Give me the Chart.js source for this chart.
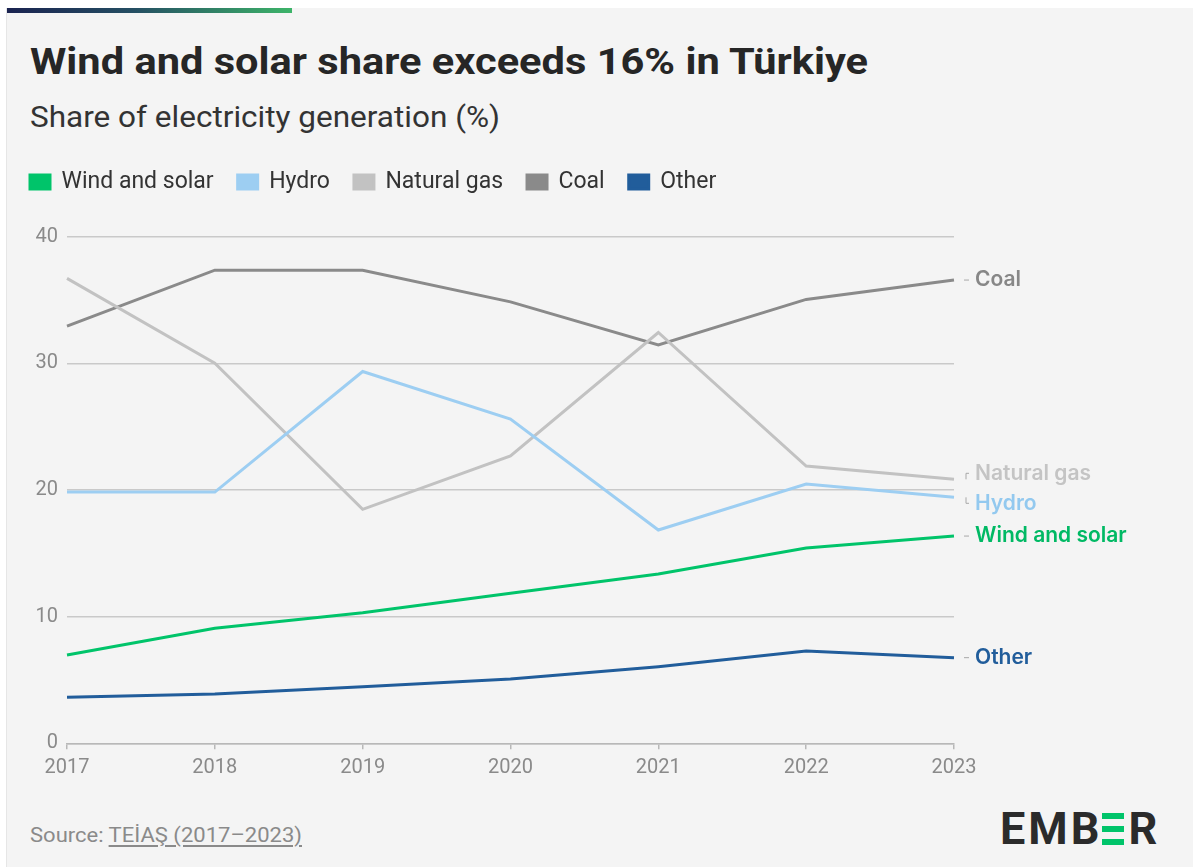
<!DOCTYPE html>
<html>
<head>
<meta charset="utf-8">
<title>Wind and solar share exceeds 16% in Türkiye</title>
<script src="https://cdn.jsdelivr.net/npm/chart.js@4.4.1/dist/chart.umd.min.js"></script>
<style>
  html, body { margin: 0; padding: 0; background: #ffffff; }
  body { width: 1193px; height: 867px; position: relative; overflow: hidden; font-family: Roboto, "Noto Sans", sans-serif; }
  #card { position: absolute; left: 6px; top: 8px; right: 0; bottom: 0; background: #f4f4f4; border-left: 1px solid #e6e6e6; }
  #accent { position: absolute; left: 7px; top: 8px; width: 285px; height: 5px;
            background: linear-gradient(90deg, #1a2350 0%, #254f63 45%, #3db469 100%); }
  .txt { position: absolute; white-space: nowrap; transform-origin: 0 0; }
  #title { left: 30px; top: 40px; font: 700 37px Roboto; line-height: 44px; color: #262626; }
  #subtitle { left: 30px; top: 100px; font: 400 29px Roboto; line-height: 34px; color: #333333; }
  #source { left: 30px; top: 823px; font: 400 20px Roboto; line-height: 24px; color: #8a8a8a; }
  #source span { text-decoration: underline; text-underline-offset: 3px; }
  #logo { position: absolute; left: 1000px; top: 806px; font: 700 45px Roboto; line-height: 46px; color: #2b2b2b; letter-spacing: 3px; white-space: nowrap; }
  #logo .e3 { display: inline-block; position: relative; width: 22px; height: 32px; margin-right: 4px; vertical-align: -1px; }
  #logo .e3 i { position: absolute; left: 0; width: 22px; height: 6px; background: #00c46a; }
  #logo .e3 i:nth-child(1) { top: 0; }
  #logo .e3 i:nth-child(2) { top: 13px; }
  #logo .e3 i:nth-child(3) { top: 26px; }
  #chart { position: absolute; left: 0; top: 0; }
</style>
</head>
<body>
<div id="card"></div>
<div id="accent"></div>
<div id="title" class="txt" data-w="838">Wind and solar share exceeds 16% in Türkiye</div>
<div id="subtitle" class="txt" data-w="470">Share of electricity generation (%)</div>
<div id="source" class="txt" data-w="272">Source: <span>TEİAŞ (2017–2023)</span></div>
<div id="logo" aria-label="EMBER">EMB<span class="e3"><i></i><i></i><i></i></span>R</div>
<canvas id="chart" width="1193" height="867"></canvas>

<script>
// Years on the x axis
const years = ['2017', '2018', '2019', '2020', '2021', '2022', '2023'];

// Share of electricity generation, %
const windSolar  = [6.97, 9.08, 10.31, 11.85, 13.36, 15.42, 16.36];
const hydro      = [19.83, 19.83, 29.35, 25.59, 16.84, 20.47, 19.42];
const naturalGas = [36.7, 30.0, 18.47, 22.69, 32.43, 21.89, 20.84];
const coal       = [32.93, 37.35, 37.35, 34.85, 31.44, 35.04, 36.57];
const other      = [3.63, 3.89, 4.47, 5.07, 6.05, 7.28, 6.76];

// Series names and colours
const seriesNames  = ['Wind and solar', 'Hydro', 'Natural gas', 'Coal', 'Other'];
const seriesColors = ['#00c46a', '#9dcef2', '#c2c2c2', '#8a8a8a', '#215d9b'];
const labelColors  = ['#00b964', '#93c9ef', '#c4c4c4', '#878787', '#215d9b'];

// Y axis ticks
const yTicks = [0, 10, 20, 30, 40];

// Squeeze HTML text blocks to their target widths
document.querySelectorAll('.txt').forEach(el => {
  const target = +el.dataset.w;
  const w = el.getBoundingClientRect().width;
  if (w > 0) el.style.transform = 'scaleX(' + (target / w).toFixed(4) + ')';
});

const seriesData = [windSolar, hydro, naturalGas, coal, other];
const datasets = seriesNames.map((name, i) => ({
  label: name,
  data: seriesData[i],
  borderColor: seriesColors[i],
  backgroundColor: seriesColors[i],
  borderWidth: 3,
  pointRadius: 0,
  pointHoverRadius: 0,
  tension: 0,
  fill: false
}));

// Names at the right end of each line, spread apart when they collide
const endLabels = {
  id: 'endLabels',
  afterDatasetsDraw(chart) {
    const { ctx, chartArea } = chart;
    const items = chart.data.datasets.map((ds, i) => {
      const meta = chart.getDatasetMeta(i);
      const pt = meta.data[meta.data.length - 1];
      return { i, text: ds.label, py: pt.y, y: pt.y };
    }).sort((a, b) => a.py - b.py);
    const gap = 30;
    for (let iter = 0; iter < 50; iter++) {
      let moved = false;
      for (let k = 1; k < items.length; k++) {
        const d = items[k].y - items[k - 1].y;
        if (d < gap) {
          const push = (gap - d) / 2;
          items[k - 1].y -= push;
          items[k].y += push;
          moved = true;
        }
      }
      if (!moved) break;
    }
    const x0 = chartArea.right + 10;
    ctx.save();
    items.forEach(it => {
      ctx.strokeStyle = '#a8a8a8';
      ctx.lineWidth = 1;
      ctx.beginPath();
      if (Math.abs(it.y - it.py) < 1) {
        ctx.moveTo(x0, it.py);
        ctx.lineTo(x0 + 5, it.py);
      } else {
        ctx.moveTo(x0 + 2, it.py);
        ctx.lineTo(x0 + 2, it.y);
        ctx.lineTo(x0 + 5, it.y);
      }
      ctx.stroke();
      ctx.fillStyle = labelColors[it.i];
      ctx.font = '600 21px Inter';
      ctx.textBaseline = 'middle';
      ctx.textAlign = 'left';
      ctx.fillText(it.text, chartArea.right + 21, it.y);
    });
    ctx.restore();
  }
};

// Fixed legend block height so the plot starts at a set position
const legendHeight = {
  id: 'legendHeight',
  beforeInit(chart) {
    const lg = chart.legend;
    if (lg) {
      const fit = lg.fit;
      lg.fit = function () { fit.call(this); this.height = 90.1; };
    }
  }
};

new Chart(document.getElementById('chart'), {
  type: 'line',
  data: { labels: years, datasets },
  plugins: [legendHeight, endLabels],
  options: {
    responsive: false,
    animation: false,
    events: [],
    layout: { padding: { left: 6, right: 239, top: 146.5, bottom: 83.7 } },
    plugins: {
      tooltip: { enabled: false },
      legend: {
        display: true,
        position: 'top',
        align: 'start',
        labels: {
          boxWidth: 20,
          boxHeight: 14,
          padding: 24,
          color: '#333333',
          font: { family: 'Roboto', size: 23 }
        }
      }
    },
    scales: {
      x: {
        type: 'category',
        offset: false,
        afterFit(scale) { scale.height = 40; },
        grid: { display: true, drawOnChartArea: false, drawTicks: true, tickLength: 6, color: '#b8b8b8', lineWidth: 1.5 },
        border: { display: true, color: '#b8b8b8', width: 1.5 },
        ticks: { color: '#8a8a8a', font: { family: 'Roboto', size: 20 }, padding: 7, maxRotation: 0, autoSkip: false }
      },
      y: {
        min: 0,
        max: 40,
        afterFit(scale) { scale.width = 61; },
        afterBuildTicks(scale) { scale.ticks = yTicks.map(v => ({ value: v })); },
        grid: { display: true, color: '#c9c9c9', lineWidth: 1.5, drawTicks: false },
        border: { display: false },
        ticks: { color: '#8a8a8a', font: { family: 'Roboto', size: 20 }, padding: 9 }
      }
    }
  }
});
</script>
</body>
</html>
